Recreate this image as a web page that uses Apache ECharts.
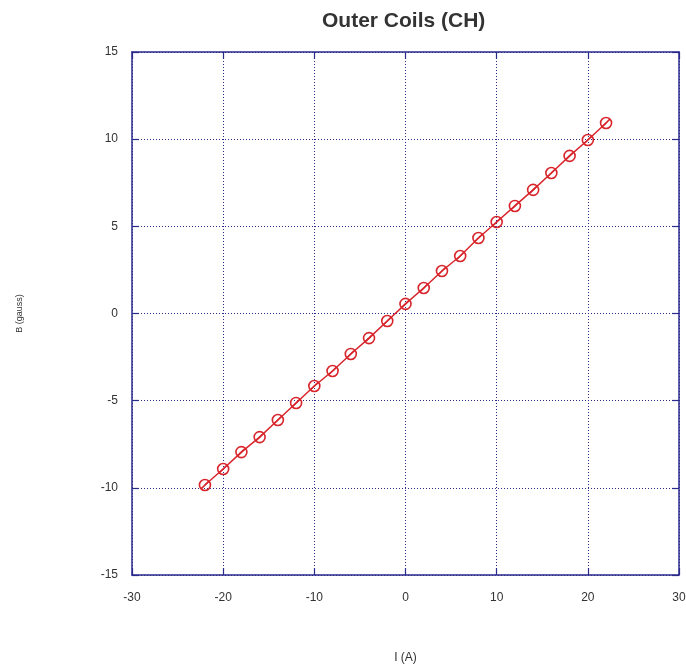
<!DOCTYPE html>
<html><head><meta charset="utf-8">
<script src="https://cdn.jsdelivr.net/npm/echarts@6/dist/echarts.min.js"></script>
<style>html,body{margin:0;padding:0;background:#fff}#c{width:686px;height:669px}</style>
</head><body><div id="c"></div>
<script>
const currents = [-22,-20,-18,-16,-14,-12,-10,-8,-6,-4,-2,0,2,4,6,8,10,12,14,16,18,20,22];
const fieldValues = [-9.84,-8.92,-7.95,-7.09,-6.11,-5.13,-4.16,-3.30,-2.32,-1.41,-0.43,0.55,1.46,2.44,3.30,4.33,5.25,6.17,7.09,8.06,9.04,9.95,10.93];
const titleText = 'Outer Coils (CH)';
const xName = 'I (A)';
const yName = 'B (gauss)';

const axisColor = '#2a2a8c';
const font = 'Liberation Sans, Arial, sans-serif';
const data = currents.map((x,i)=>[x, fieldValues[i]]);
const marker = 'path://M0,5 A5,5 0 1,1 10,5 A5,5 0 1,1 0,5 Z M1.8,8.2 L8.2,1.8';

const chart = echarts.init(document.getElementById('c'), null, {renderer:'canvas'});
const baseX = {type:'value', min:-30, max:30, interval:10};
const baseY = {type:'value', min:-15, max:15, interval:5};
chart.setOption({
  animation:false,
  backgroundColor:'#fff',
  title:{text:titleText, left:317, top:6,
    textStyle:{fontFamily:font, fontWeight:'bold', fontSize:21, color:'#333'}},
  grid:{left:132, right:7, top:52, bottom:94, containLabel:false, outerBoundsMode:'none'},
  xAxis:[
    Object.assign({}, baseX, {position:'bottom', name:xName, nameLocation:'middle', nameGap:77,
      nameTextStyle:{fontFamily:font, fontSize:12, color:'#333'},
      axisLine:{onZero:false, lineStyle:{color:axisColor, width:1.5}},
      axisTick:{inside:true, length:7, lineStyle:{color:axisColor, width:1.2}},
      axisLabel:{fontFamily:font, fontSize:12, color:'#333', margin:17},
      splitLine:{show:true, lineStyle:{color:'#2a2a8c', type:[1,2], width:1}}}),
    Object.assign({}, baseX, {position:'top',
      axisLine:{onZero:false, lineStyle:{color:axisColor, width:1.5}},
      axisTick:{inside:true, length:7, lineStyle:{color:axisColor, width:1.2}},
      axisLabel:{show:false}, splitLine:{show:false}})
  ],
  yAxis:[
    Object.assign({}, baseY, {position:'left', name:yName, nameLocation:'middle', nameGap:108, nameRotate:90,
      nameTextStyle:{fontFamily:font, fontSize:9, color:'#333'},
      axisLine:{onZero:false, lineStyle:{color:axisColor, width:1.5}},
      axisTick:{inside:true, length:7, lineStyle:{color:axisColor, width:1.2}},
      axisLabel:{fontFamily:font, fontSize:12, color:'#333', margin:14},
      splitLine:{show:true, lineStyle:{color:'#2a2a8c', type:[1,2], width:1}}}),
    Object.assign({}, baseY, {position:'right',
      axisLine:{onZero:false, lineStyle:{color:axisColor, width:1.5}},
      axisTick:{inside:true, length:7, lineStyle:{color:axisColor, width:1.2}},
      axisLabel:{show:false}, splitLine:{show:false}})
  ],
  series:[{
    type:'line', data:data, xAxisIndex:0, yAxisIndex:0,
    symbol:marker, symbolSize:11,
    lineStyle:{color:'#d8262c', width:1.5},
    itemStyle:{color:'rgba(0,0,0,0)', borderColor:'#d8262c', borderWidth:1.6}
  }]
});
</script></body></html>
